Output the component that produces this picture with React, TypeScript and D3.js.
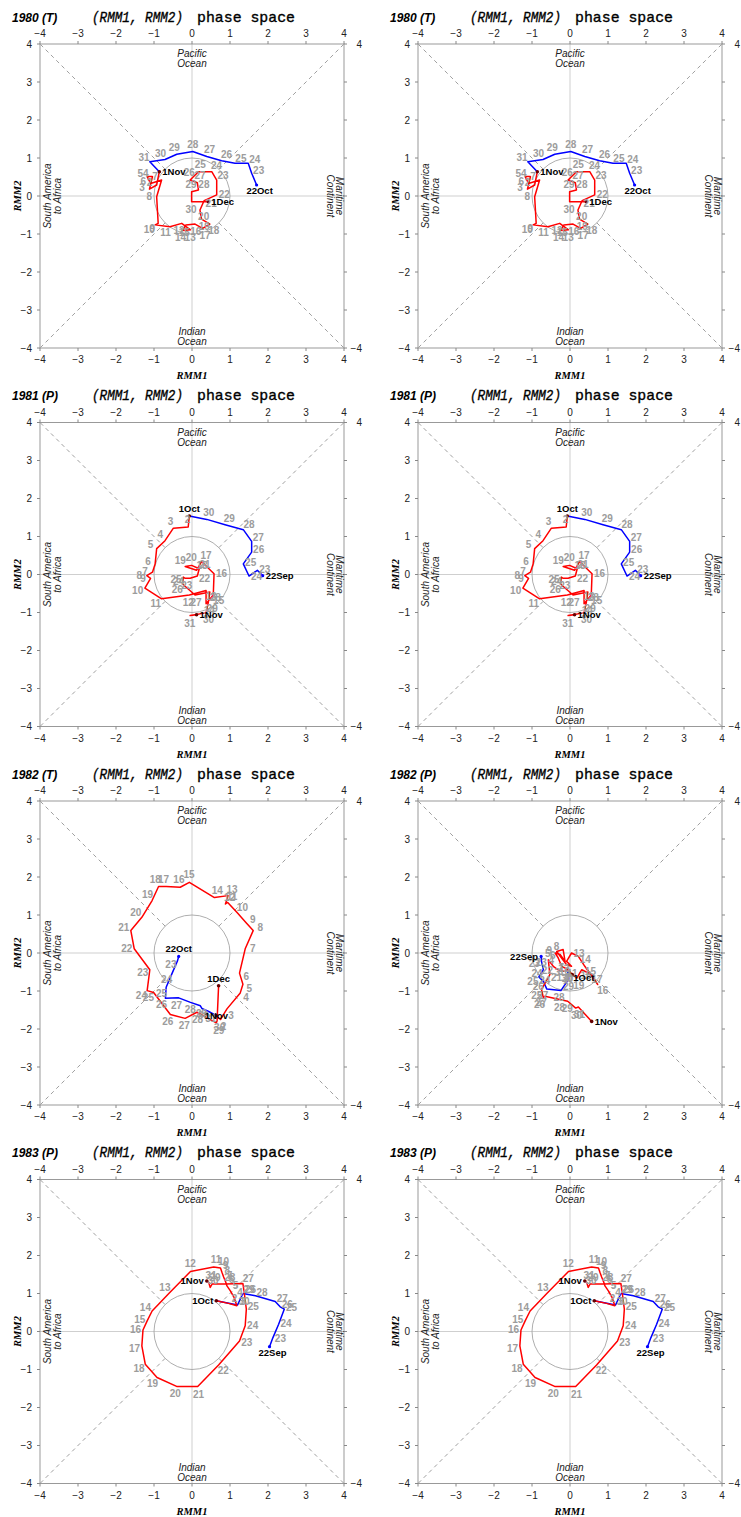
import React from 'react';
import * as d3 from 'd3';

// ---------------- data ----------------
const axisTicks = [-4, -3, -2, -1, 0, 1, 2, 3, 4];

// 1980 (T): 22 Oct – 31 Oct (blue), 1 Nov – 1 Dec (red)
const rmm1_1980_blue = [1.70, 1.57, 1.48, 1.13, 0.78, 0.39, 0.02, -0.40, -0.71, -1.11];
const rmm2_1980_blue = [0.29, 0.60, 0.86, 0.86, 0.93, 1.04, 1.17, 1.10, 0.96, 0.90];
const rmm1_1980_red = [-0.86, -0.93, -1.12, -1.04, -1.18, -1.09, -0.80, -0.93, -0.89, -0.97, -0.58, -0.27, -0.04, -0.25, -0.16, 0.08, 0.28, 0.47, 0.25, 0.21, 0.32, 0.65, 0.65, 0.52, 0.17, -0.05, 0.14, 0.17, -0.01, -0.01, 0.43];
const rmm2_1980_red = [0.64, 0.29, 0.18, 0.51, 0.51, 0.33, 0.42, -0.02, -0.72, -0.76, -0.81, -0.72, -0.89, -0.91, -0.76, -0.74, -0.85, -0.74, -0.61, -0.37, -0.12, 0.03, 0.42, 0.64, 0.64, 0.42, 0.35, 0.16, 0.11, -0.15, -0.15];

// 1981 (P): 22 Sep – 30 Sep (blue), 1 Oct – 1 Nov (red)
const rmm1_1981_blue = [1.86, 1.72, 1.50, 1.35, 1.57, 1.57, 1.35, 0.87, 0.39];
const rmm2_1981_blue = [-0.03, 0.11, -0.04, 0.28, 0.59, 0.87, 1.18, 1.31, 1.45];
const rmm1_1981_red = [-0.07, -0.10, -0.49, -0.71, -0.93, -0.97, -1.04, -1.19, -1.09, -1.24, -0.80, -0.07, 0.37, 0.37, 0.56, 0.58, 0.25, 0.12, -0.18, -0.01, 0.19, 0.14, -0.05, -0.18, -0.23, -0.25, 0.08, 0.47, 0.43, 0.37, -0.05, 0.12];
const rmm2_1981_red = [1.54, 1.25, 1.22, 0.89, 0.68, 0.28, 0.06, -0.03, -0.10, -0.36, -0.64, -0.54, -0.42, -0.77, -0.54, 0.02, 0.34, 0.11, 0.21, 0.24, 0.15, -0.04, -0.10, -0.10, -0.07, -0.25, -0.54, -0.46, -0.73, -1.01, -1.08, -1.06];

// 1982 (T): 22 Oct – 31 Oct (blue), 1 Nov – 1 Dec (red)
const rmm1_1982T_blue = [-0.35, -0.38, -0.53, -0.68, -0.70, -0.35, -0.04, 0.22, 0.26, 0.44];
const rmm2_1982T_blue = [-0.09, -0.20, -0.55, -0.90, -1.19, -1.18, -1.30, -1.39, -1.46, -1.54];
const rmm1_1982T_red = [0.64, 0.75, 0.92, 1.27, 1.34, 1.25, 1.40, 1.61, 1.43, 1.18, 0.94, 0.88, 0.95, 0.59, -0.07, -0.31, -0.68, -0.88, -1.05, -1.32, -1.61, -1.52, -1.11, -1.18, -1.01, -0.57, -0.18, 0.13, 0.64, 0.66, 0.70];
const rmm2_1982T_red = [-1.65, -1.75, -1.47, -1.05, -0.82, -0.53, 0.11, 0.59, 0.79, 1.07, 1.33, 1.29, 1.51, 1.46, 1.86, 1.73, 1.75, 1.75, 1.38, 0.94, 0.59, 0.11, -0.44, -0.99, -1.04, -1.62, -1.72, -1.56, -1.84, -1.78, -0.86];

// 1982 (P): 22 Sep – 30 Sep (blue), 1 Oct – 1 Nov (red)
const rmm1_1982P_blue = [-0.76, -0.75, -0.70, -0.82, -0.70, -0.61, -0.24, -0.03, -0.06];
const rmm2_1982P_blue = [-0.09, -0.22, -0.44, -0.63, -0.75, -0.95, -0.99, -0.68, -0.48];
const rmm1_1982P_red = [0.06, -0.04, -0.22, -0.31, -0.39, -0.26, -0.13, -0.18, -0.35, -0.09, 0.04, -0.09, 0.04, 0.22, 0.39, 0.73, 0.57, 0.31, 0.18, -0.04, -0.26, -0.44, -0.57, -0.53, -0.75, -0.70, -0.66, -0.24, -0.06, 0.15, 0.22, 0.57];
const rmm2_1982P_red = [-0.57, -0.44, -0.35, -0.13, 0.00, -0.04, -0.22, 0.09, 0.04, -0.31, -0.35, -0.22, 0.00, -0.09, -0.35, -0.83, -0.57, -0.44, -0.66, -0.48, -0.48, -0.35, -0.18, -0.57, -0.96, -1.18, -1.14, -1.23, -1.27, -1.45, -1.42, -1.80];

// 1983 (P): 22 Sep – 30 Sep (blue), 1 Oct – 1 Nov (red)
const rmm1_1983_blue = [2.04, 2.13, 2.28, 2.43, 2.32, 2.19, 1.67, 1.34, 1.20];
const rmm2_1983_blue = [-0.40, -0.16, 0.19, 0.59, 0.65, 0.79, 0.94, 1.00, 0.70];
const rmm1_1983_red = [0.64, 0.96, 1.18, 1.11, 1.01, 0.92, 0.88, 0.83, 0.79, 0.75, 0.57, -0.04, -0.61, -1.05, -1.18, -1.29, -1.32, -1.23, -0.92, -0.39, 0.15, 0.70, 1.25, 1.40, 1.43, 1.38, 1.34, 0.88, 0.53, 0.48, 0.44, 0.39];
const rmm2_1983_red = [0.81, 0.74, 0.68, 0.89, 1.07, 1.20, 1.32, 1.44, 1.55, 1.67, 1.70, 1.58, 1.00, 0.54, 0.28, 0.04, -0.38, -0.86, -1.21, -1.45, -1.45, -0.88, -0.25, 0.15, 0.59, 0.98, 1.26, 1.25, 1.25, 1.16, 1.29, 1.33];

// ---------------- panel definitions ----------------
type Cfg = {
  title: string;
  b1: number[]; b2: number[]; r1: number[]; r2: number[];
  startDay: number; m0: string; m1: string; m2: string;
};
const p1980: Cfg = { title: '1980 (T)', b1: rmm1_1980_blue, b2: rmm2_1980_blue, r1: rmm1_1980_red, r2: rmm2_1980_red, startDay: 22, m0: 'Oct', m1: 'Nov', m2: 'Dec' };
const p1981: Cfg = { title: '1981 (P)', b1: rmm1_1981_blue, b2: rmm2_1981_blue, r1: rmm1_1981_red, r2: rmm2_1981_red, startDay: 22, m0: 'Sep', m1: 'Oct', m2: 'Nov' };
const p1982T: Cfg = { title: '1982 (T)', b1: rmm1_1982T_blue, b2: rmm2_1982T_blue, r1: rmm1_1982T_red, r2: rmm2_1982T_red, startDay: 22, m0: 'Oct', m1: 'Nov', m2: 'Dec' };
const p1982P: Cfg = { title: '1982 (P)', b1: rmm1_1982P_blue, b2: rmm2_1982P_blue, r1: rmm1_1982P_red, r2: rmm2_1982P_red, startDay: 22, m0: 'Sep', m1: 'Oct', m2: 'Nov' };
const p1983: Cfg = { title: '1983 (P)', b1: rmm1_1983_blue, b2: rmm2_1983_blue, r1: rmm1_1983_red, r2: rmm2_1983_red, startDay: 22, m0: 'Sep', m1: 'Oct', m2: 'Nov' };

const panels: Cfg[] = [p1980, p1980, p1981, p1981, p1982T, p1982P, p1983, p1983];
// placement of black date annotations: [start, first of month, end]
const annotPlace: string[][] = [
  ['b', 'r', 'r'], ['b', 'r', 'r'],
  ['r', 'a', 'r'], ['r', 'a', 'r'],
  ['a', 'c', 'a'], ['l', 'rb', 'r'],
  ['b', 'l', 'l'], ['b', 'l', 'l'],
];

const SANS = 'Liberation Sans, Arial, sans-serif';
const MONO = 'Liberation Mono, Courier New, monospace';
const SERIF = 'Liberation Serif, Times New Roman, serif';

function place(code: string, px: number, py: number) {
  switch (code) {
    case 'r': return { x: px + 3, y: py + 3.5, a: 'start' };
    case 'l': return { x: px - 3, y: py + 3.5, a: 'end' };
    case 'a': return { x: px, y: py - 4, a: 'middle' };
    case 'b': return { x: px + 3, y: py + 9, a: 'middle' };
    case 'rb': return { x: px + 1, y: py + 6.5, a: 'start' };
    default: return { x: px, y: py + 3.5, a: 'middle' };
  }
}

const fmt = (t: number) => (t < 0 ? `\u2212${-t}` : String(t));

function Panel({ cfg, idx }: { cfg: Cfg; idx: number }) {
  const col = idx % 2, row = Math.floor(idx / 2);
  const ox = col * 378, oy = row * 378.5;
  const x = d3.scaleLinear().domain([-4, 4]).range([40, 344]);
  const y = d3.scaleLinear().domain([-4, 4]).range([348, 44]);
  const blue: [number, number][] = cfg.b1.map((v, i) => [v, cfg.b2[i]]);
  const red: [number, number][] = cfg.r1.map((v, i) => [v, cfg.r2[i]]);
  const line = d3.line<[number, number]>().x(d => x(d[0])).y(d => y(d[1]));
  const rad = x(1) - x(0);
  const c = 1 / Math.SQRT2;
  const x0 = x(0), y0 = y(0);
  const gray = '#9c9c9c';

  const dayLab = (d: [number, number]) => {
    const px = x(d[0]), py = y(d[1]);
    let dx = px - x0, dy = py - y0;
    const n = Math.hypot(dx, dy);
    if (n < 1) { dx = 0; dy = -1; } else { dx /= n; dy /= n; }
    return [px + dx * 7.5, py + dy * 7.5 + 3.5];
  };

  const labels: { p: [number, number]; t: string }[] = [];
  blue.forEach((d, i) => { if (i > 0) labels.push({ p: d, t: String(cfg.startDay + i) }); });
  red.forEach((d, i) => { if (i > 0 && i < red.length - 1) labels.push({ p: d, t: String(i + 1) }); });

  const pl = annotPlace[idx];
  const annots = [
    { d: blue[0], t: `${cfg.startDay}${cfg.m0}`, code: pl[0] },
    { d: red[0], t: `1${cfg.m1}`, code: pl[1] },
    { d: red[red.length - 1], t: `1${cfg.m2}`, code: pl[2] },
  ];

  return (
    <g transform={`translate(${ox},${oy})`}>
      {/* titles */}
      <text x={12} y={21.5} fontFamily={SANS} fontSize={12} fontWeight="bold" fontStyle="italic" fill="#000">{cfg.title}</text>
      <text x={92} y={21.5} fontFamily={MONO} fontSize={15} fontStyle="italic" fill="#000" stroke="#000" strokeWidth={0.35} textLength={91} lengthAdjust="spacingAndGlyphs">(RMM1, RMM2)</text>
      <text x={197} y={21.5} fontFamily={MONO} fontSize={15} fill="#000" stroke="#000" strokeWidth={0.35} textLength={98} lengthAdjust="spacingAndGlyphs">phase space</text>

      {/* zero lines */}
      <line x1={x(-4)} x2={x(4)} y1={y0} y2={y0} stroke="#cfcfcf" strokeWidth={1} />
      <line x1={x0} x2={x0} y1={y(-4)} y2={y(4)} stroke="#cfcfcf" strokeWidth={1} />
      {/* circle */}
      <circle cx={x0} cy={y0} r={rad} fill="none" stroke="#999" strokeWidth={0.8} />
      {/* diagonals */}
      {[[1, 1], [1, -1], [-1, 1], [-1, -1]].map(([sx, sy], i) => (
        <line key={i} x1={x(sx * c)} y1={y(sy * c)} x2={x(sx * 4)} y2={y(sy * 4)} stroke="#a0a0a0" strokeWidth={1} strokeDasharray="4,3.5" />
      ))}
      {/* frame */}
      <rect x={x(-4)} y={y(4)} width={x(4) - x(-4)} height={y(-4) - y(4)} fill="none" stroke="#999" strokeWidth={1} />

      {/* ticks */}
      {axisTicks.map(t => (
        <g key={t}>
          <line x1={x(t)} x2={x(t)} y1={y(4)} y2={y(4) - 3} stroke="#888" />
          <line x1={x(t)} x2={x(t)} y1={y(-4)} y2={y(-4) + 3} stroke="#888" />
          <line x1={x(-4)} x2={x(-4) - 3} y1={y(t)} y2={y(t)} stroke="#888" />
          <line x1={x(4)} x2={x(4) + 3} y1={y(t)} y2={y(t)} stroke="#888" />
          <text x={x(t)} y={37} textAnchor="middle" fontFamily={SANS} fontSize={10} fill="#222">{fmt(t)}</text>
          <text x={x(t)} y={363} textAnchor="middle" fontFamily={SANS} fontSize={10} fill="#222">{fmt(t)}</text>
          <text x={32} y={y(t) + 3.5} textAnchor="end" fontFamily={SANS} fontSize={10} fill="#222">{fmt(t)}</text>
          {Math.abs(t) === 4 && (
            <text x={362} y={y(t) + 3.5} textAnchor="end" fontFamily={SANS} fontSize={10} fill="#222">{fmt(t)}</text>
          )}
        </g>
      ))}

      {/* axis titles */}
      <text x={x0} y={379} textAnchor="middle" fontFamily={SERIF} fontSize={10.5} fontWeight="bold" fontStyle="italic" fill="#000">RMM1</text>
      <text transform={`translate(21,${y0}) rotate(-90)`} textAnchor="middle" fontFamily={SERIF} fontSize={10.5} fontWeight="bold" fontStyle="italic" fill="#000">RMM2</text>

      {/* region names */}
      <g fontFamily={SANS} fontSize={10} fontStyle="italic" fill="#222" textAnchor="middle">
        <text x={x0} y={57}>Pacific</text>
        <text x={x0} y={67}>Ocean</text>
        <text x={x0} y={335}>Indian</text>
        <text x={x0} y={345}>Ocean</text>
        <text transform={`translate(51,${y0}) rotate(-90)`}>South America</text>
        <text transform={`translate(60.5,${y0}) rotate(-90)`}>to Africa</text>
        <text transform={`translate(336,${y0}) rotate(90)`}>Maritime</text>
        <text transform={`translate(326.5,${y0}) rotate(90)`}>Continent</text>
      </g>

      {/* trajectories */}
      <path d={line([...blue, red[0]]) || ''} fill="none" stroke="#0000ff" strokeWidth={1.5} strokeLinejoin="round" />
      <path d={line(red) || ''} fill="none" stroke="#ff0000" strokeWidth={1.5} strokeLinejoin="round" />
      <circle cx={x(blue[0][0])} cy={y(blue[0][1])} r={1.6} fill="#0000ff" />
      <circle cx={x(red[0][0])} cy={y(red[0][1])} r={1.8} fill="#600" />
      <circle cx={x(red[red.length - 1][0])} cy={y(red[red.length - 1][1])} r={1.8} fill="#600" />

      {/* day numbers */}
      <g fontFamily={SANS} fontSize={10} fontWeight="bold" fill={gray} textAnchor="middle">
        {labels.map((l, i) => {
          const [lx, ly] = dayLab(l.p);
          return <text key={i} x={lx} y={ly}>{l.t}</text>;
        })}
      </g>
      <g fontFamily={SANS} fontSize={9.5} fontWeight="bold" fill="#000">
        {annots.map((a, i) => {
          const p = place(a.code, x(a.d[0]), y(a.d[1]));
          return <text key={i} x={p.x} y={p.y} textAnchor={p.a as any}>{a.t}</text>;
        })}
      </g>
    </g>
  );
}

export default function App() {
  return (
    <svg width={741} height={1517} style={{ position: 'absolute', left: 0, top: 0, background: '#fff', display: 'block' }}>
      <rect width={741} height={1517} fill="#fff" />
      {panels.map((p, i) => <Panel key={i} cfg={p} idx={i} />)}
    </svg>
  );
}
